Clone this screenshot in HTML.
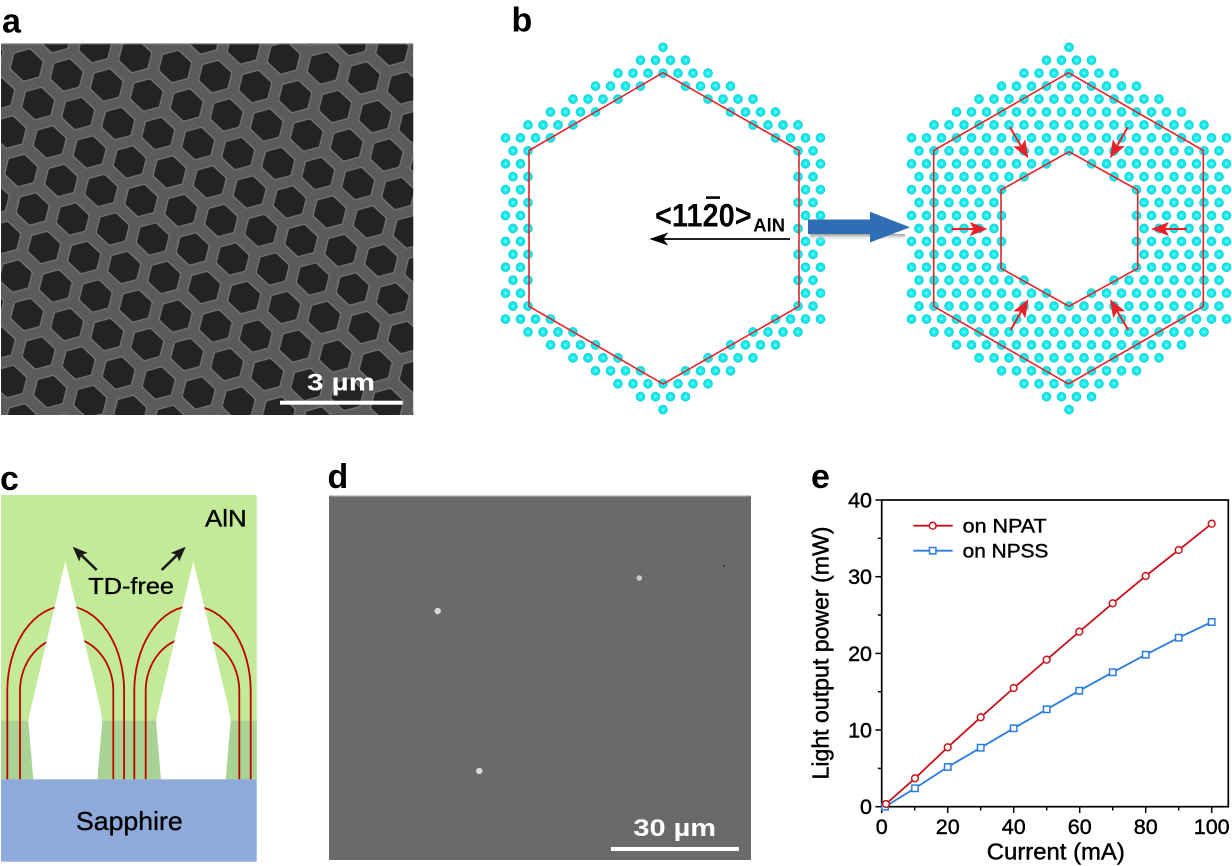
<!DOCTYPE html>
<html><head><meta charset="utf-8"><style>html,body{margin:0;padding:0;background:#fff}svg{display:block}</style></head>
<body>
<svg xmlns="http://www.w3.org/2000/svg" width="1232" height="866" viewBox="0 0 1232 866" font-family="Liberation Sans, Arial, sans-serif">
<defs>
<radialGradient id="dg" cx="0.5" cy="0.5" r="0.5">
<stop offset="0" stop-color="#e8ffff"/><stop offset="0.14" stop-color="#6ff9f9"/><stop offset="0.3" stop-color="#22f2f4"/><stop offset="0.85" stop-color="#12e0e4"/><stop offset="1" stop-color="#12aab4"/>
</radialGradient>
<pattern id="pl" patternUnits="userSpaceOnUse" x="655.5" y="40.83" width="15" height="25.88">
<circle cx="7.5" cy="6.47" r="4.8" fill="url(#dg)"/><circle cx="0" cy="19.41" r="4.8" fill="url(#dg)"/><circle cx="15" cy="19.41" r="4.8" fill="url(#dg)"/>
</pattern>
<pattern id="pr" patternUnits="userSpaceOnUse" x="1061.5" y="40.83" width="15" height="25.88">
<circle cx="7.5" cy="6.47" r="4.8" fill="url(#dg)"/><circle cx="0" cy="19.41" r="4.8" fill="url(#dg)"/><circle cx="15" cy="19.41" r="4.8" fill="url(#dg)"/>
</pattern>
<pattern id="hx" patternUnits="userSpaceOnUse" width="100" height="100" patternTransform="matrix(0.4 0.1 0.115 0.385 0.95 40.75)">
<polygon points="72.67,72.67 95.33,27.33 72.67,4.67 27.33,27.33 4.67,72.67 27.33,95.33" fill="#777" stroke="#777" stroke-width="8" stroke-linejoin="round"/>
<polygon points="70.67,70.67 91.33,29.33 70.67,8.67 29.33,29.33 8.67,70.67 29.33,91.33" fill="#232323" stroke="#232323" stroke-width="8" stroke-linejoin="round"/>
</pattern>
<clipPath id="ca"><rect x="1" y="43.3" width="412.3" height="371.7"/></clipPath>
<linearGradient id="sh" x1="0" y1="0" x2="0" y2="1"><stop offset="0" stop-color="#9a9a9a"/><stop offset="1" stop-color="#ffffff" stop-opacity="0"/></linearGradient>
</defs>

<!-- Panel labels -->
<g font-weight="bold" font-size="34" fill="#000">
<text x="2" y="32.3">a</text>
<text x="511.5" y="31.7">b</text>
<text x="0" y="490">c</text>
<text x="327.5" y="488">d</text>
<text x="811" y="488">e</text>
</g>

<!-- Panel a -->
<g clip-path="url(#ca)">
<rect x="1" y="43.3" width="412.3" height="371.7" fill="#5b5b5b"/>
<rect x="1" y="43.3" width="412.3" height="371.7" fill="url(#hx)"/>
</g>
<rect x="1" y="43.3" width="412.3" height="1" fill="#9a9a9a"/>
<rect x="280" y="400.7" width="122.7" height="4" fill="#fff"/>
<text x="341" y="390.7" text-anchor="middle" font-weight="bold" font-size="24" fill="#fff" textLength="68" lengthAdjust="spacingAndGlyphs">3 µm</text>

<!-- Panel b: dots left -->
<g fill="url(#pl)">
<rect x="656" y="41.3" width="14" height="12"/>
<rect x="633.5" y="54.24" width="59" height="12"/>
<rect x="611" y="67.18" width="104" height="12"/>
<rect x="588.5" y="80.12" width="59" height="12"/><rect x="678.5" y="80.12" width="59" height="12"/>
<rect x="566" y="93.06" width="59" height="12"/><rect x="701" y="93.06" width="59" height="12"/>
<rect x="543.5" y="106" width="59" height="12"/><rect x="723.5" y="106" width="59" height="12"/>
<rect x="521" y="118.94" width="59" height="12"/><rect x="746" y="118.94" width="59" height="12"/>
<rect x="498.5" y="131.88" width="59" height="12"/><rect x="768.5" y="131.88" width="59" height="12"/>
<rect x="506" y="144.82" width="29" height="12"/><rect x="791" y="144.82" width="29" height="12"/>
<rect x="498.5" y="157.76" width="29" height="12"/><rect x="798.5" y="157.76" width="29" height="12"/>
<rect x="506" y="170.7" width="29" height="12"/><rect x="791" y="170.7" width="29" height="12"/>
<rect x="498.5" y="183.64" width="29" height="12"/><rect x="798.5" y="183.64" width="29" height="12"/>
<rect x="506" y="196.58" width="29" height="12"/><rect x="791" y="196.58" width="29" height="12"/>
<rect x="498.5" y="209.52" width="29" height="12"/><rect x="798.5" y="209.52" width="29" height="12"/>
<rect x="506" y="222.46" width="29" height="12"/><rect x="791" y="222.46" width="29" height="12"/>
<rect x="498.5" y="235.4" width="29" height="12"/><rect x="798.5" y="235.4" width="29" height="12"/>
<rect x="506" y="248.34" width="29" height="12"/><rect x="791" y="248.34" width="29" height="12"/>
<rect x="498.5" y="261.28" width="29" height="12"/><rect x="798.5" y="261.28" width="29" height="12"/>
<rect x="506" y="274.22" width="29" height="12"/><rect x="791" y="274.22" width="29" height="12"/>
<rect x="498.5" y="287.16" width="29" height="12"/><rect x="798.5" y="287.16" width="29" height="12"/>
<rect x="506" y="300.1" width="29" height="12"/><rect x="791" y="300.1" width="29" height="12"/>
<rect x="498.5" y="313.04" width="59" height="12"/><rect x="768.5" y="313.04" width="59" height="12"/>
<rect x="521" y="325.98" width="59" height="12"/><rect x="746" y="325.98" width="59" height="12"/>
<rect x="543.5" y="338.92" width="59" height="12"/><rect x="723.5" y="338.92" width="59" height="12"/>
<rect x="566" y="351.86" width="59" height="12"/><rect x="701" y="351.86" width="59" height="12"/>
<rect x="588.5" y="364.8" width="59" height="12"/><rect x="678.5" y="364.8" width="59" height="12"/>
<rect x="611" y="377.74" width="104" height="12"/>
<rect x="633.5" y="390.68" width="59" height="12"/>
<rect x="656" y="403.62" width="14" height="12"/>
</g>

<!-- Panel b: dots right -->
<g fill="url(#pr)">
<rect x="1062" y="41.3" width="14" height="12"/>
<rect x="1039.5" y="54.24" width="59" height="12"/>
<rect x="1017" y="67.18" width="104" height="12"/>
<rect x="994.5" y="80.12" width="149" height="12"/>
<rect x="972" y="93.06" width="194" height="12"/>
<rect x="949.5" y="106" width="239" height="12"/>
<rect x="927" y="118.94" width="284" height="12"/>
<rect x="904.5" y="131.88" width="329" height="12"/>
<rect x="912" y="144.82" width="314" height="12"/>
<rect x="904.5" y="157.76" width="149" height="12"/><rect x="1084.5" y="157.76" width="149" height="12"/>
<rect x="912" y="170.7" width="119" height="12"/><rect x="1107" y="170.7" width="119" height="12"/>
<rect x="904.5" y="183.64" width="104" height="12"/><rect x="1129.5" y="183.64" width="104" height="12"/>
<rect x="912" y="196.58" width="89" height="12"/><rect x="1137" y="196.58" width="89" height="12"/>
<rect x="904.5" y="209.52" width="104" height="12"/><rect x="1129.5" y="209.52" width="104" height="12"/>
<rect x="912" y="222.46" width="89" height="12"/><rect x="1137" y="222.46" width="89" height="12"/>
<rect x="904.5" y="235.4" width="104" height="12"/><rect x="1129.5" y="235.4" width="104" height="12"/>
<rect x="912" y="248.34" width="89" height="12"/><rect x="1137" y="248.34" width="89" height="12"/>
<rect x="904.5" y="261.28" width="104" height="12"/><rect x="1129.5" y="261.28" width="104" height="12"/>
<rect x="912" y="274.22" width="119" height="12"/><rect x="1107" y="274.22" width="119" height="12"/>
<rect x="904.5" y="287.16" width="149" height="12"/><rect x="1084.5" y="287.16" width="149" height="12"/>
<rect x="912" y="300.1" width="314" height="12"/>
<rect x="904.5" y="313.04" width="329" height="12"/>
<rect x="927" y="325.98" width="284" height="12"/>
<rect x="949.5" y="338.92" width="239" height="12"/>
<rect x="972" y="351.86" width="194" height="12"/>
<rect x="994.5" y="364.8" width="149" height="12"/>
<rect x="1017" y="377.74" width="104" height="12"/>
<rect x="1039.5" y="390.68" width="59" height="12"/>
<rect x="1062" y="403.62" width="14" height="12"/>
</g>

<!-- red hexagons -->
<g fill="none" stroke="#e3232a" stroke-width="1.6" stroke-linejoin="miter">
<polygon points="663,72.7 799,150.5 799,306.3 663,384 529,306.3 529,150.5"/>
<polygon points="1068.5,72.7 1203.3,150.5 1203.3,306.3 1068.5,384 933.7,306.3 933.7,150.5"/>
<polygon points="1069,151.7 1137.7,190 1137.7,268.3 1069,306.3 1001,268.3 1001,190"/>
</g>

<!-- red arrows -->
<g stroke="#e8202a" stroke-width="2" fill="none">
<line x1="951.7" y1="229" x2="975" y2="229"/>
<line x1="1186.7" y1="229" x2="1163" y2="229"/>
<line x1="1010" y1="127.3" x2="1021.2" y2="146.3"/>
<line x1="1127.7" y1="127.3" x2="1116.9" y2="146.2"/>
<line x1="1010.7" y1="330" x2="1021.3" y2="311.4"/>
<line x1="1128.3" y1="330" x2="1117.2" y2="311.3"/>
</g>
<g fill="#e8202a">
<polygon points="987.7,229 969.7,236 973.7,229 969.7,222"/>
<polygon points="1151,229 1169,236 1165,229 1169,222"/>
<polygon points="1028.3,158.3 1013.1,146.4 1021.2,146.25 1025.2,139.2"/>
<polygon points="1110,158.3 1112.85,139.2 1116.94,146.15 1125,146.15"/>
<polygon points="1028.3,299.3 1025.4,318.4 1021.34,311.44 1013.3,311.4"/>
<polygon points="1110,299.3 1125.2,311.2 1117.17,311.33 1113.2,318.3"/>
</g>

<!-- black direction arrow and label -->
<line x1="663" y1="239" x2="790" y2="239" stroke="#000" stroke-width="1.7"/>
<polygon points="649.3,239 668.3,232.5 663.3,239 668.3,245.5" fill="#000"/>
<g transform="translate(655 226.7) scale(1 1.12)">
<text x="0" y="0" font-weight="bold" font-size="29" fill="#000" textLength="96.7" lengthAdjust="spacingAndGlyphs">&lt;1120&gt;</text>
</g>
<rect x="706" y="196.3" width="14" height="2.6" fill="#000"/>
<text x="753.3" y="231.7" font-weight="bold" font-size="18.5" fill="#000" textLength="31.7" lengthAdjust="spacingAndGlyphs">AlN</text>

<!-- blue arrow -->
<rect x="810" y="234" width="95" height="7" fill="url(#sh)"/>
<rect x="808" y="219.5" width="64" height="14.5" fill="#2f6db5"/>
<polygon points="870,211.7 910,227.2 870,242.5" fill="#2f6db5"/>

<!-- Panel c -->
<rect x="1" y="495" width="255.7" height="284.3" fill="#c2ea98"/>
<rect x="1" y="720.7" width="255.7" height="58.6" fill="#a9d394"/>
<rect x="1" y="779.3" width="255.7" height="82.4" fill="#8eaadb"/>
<g fill="none" stroke="#c00000" stroke-width="1.8">
<path d="M7.3,779.3 L7.3,691 A58.4,85 0 0 1 124.1,691 L124.1,779.3"/>
<path d="M20,779.3 L20,691 A46.65,54 0 0 1 113.3,691 L113.3,779.3"/>
<path d="M134.3,779.3 L134.3,691 A58.2,85 0 0 1 250.7,691 L250.7,779.3"/>
<path d="M145.7,779.3 L145.7,691 A46.8,54 0 0 1 239.3,691 L239.3,779.3"/>
</g>
<polygon points="65.3,561 100,706.7 102.3,720.7 97.3,779.3 33.3,779.3 28.3,720.7 31.3,706.7" fill="#fff"/>
<polygon points="193.3,561 228.3,706.7 230.7,720.7 225.7,779.3 161,779.3 156,720.7 159,706.7" fill="#fff"/>
<g stroke="#1a1a1a" stroke-width="2.6">
<line x1="96.7" y1="570" x2="81.3" y2="555.1"/>
<line x1="161.7" y1="570" x2="177.1" y2="555.1"/>
</g>
<g fill="#1a1a1a">
<polygon points="72.7,546.7 87.64,552.84 81.31,555.06 79.28,561.46"/>
<polygon points="185.7,546.7 179.12,561.46 177.09,555.06 170.76,552.84"/>
</g>
<g fill="#000" stroke="#000" stroke-width="0.35">
<text x="205" y="526.7" font-size="24" textLength="41.7" lengthAdjust="spacingAndGlyphs">AlN</text>
<text x="88.3" y="594" font-size="23" textLength="85.7" lengthAdjust="spacingAndGlyphs">TD-free</text>
<text x="76" y="830" font-size="26" textLength="106.7" lengthAdjust="spacingAndGlyphs">Sapphire</text>
</g>

<!-- Panel d -->
<rect x="329" y="495.7" width="422" height="364.3" fill="#6a6a6a"/>
<rect x="329" y="495.7" width="422" height="1" fill="#a0a0a0"/>
<circle cx="437.7" cy="611" r="3.2" fill="#d8d8d8"/>
<circle cx="639.3" cy="578" r="2.8" fill="#c8c8c8"/>
<circle cx="479.3" cy="771" r="3.2" fill="#d8d8d8"/>
<circle cx="724" cy="566" r="1" fill="#333"/>
<rect x="611" y="847" width="128" height="4" fill="#fff"/>
<text x="674.7" y="836" text-anchor="middle" font-weight="bold" font-size="24" fill="#fff" textLength="82.7" lengthAdjust="spacingAndGlyphs">30 µm</text>

<!-- Panel e chart -->
<g stroke="#000" stroke-width="1.7" fill="none">
<rect x="881.7" y="500" width="346.6" height="306.7"/>
</g>
<g stroke="#000" stroke-width="1.5">
<line x1="881.7" y1="806.7" x2="881.7" y2="813"/>
<line x1="947.7" y1="806.7" x2="947.7" y2="813"/>
<line x1="1013.7" y1="806.7" x2="1013.7" y2="813"/>
<line x1="1079.7" y1="806.7" x2="1079.7" y2="813"/>
<line x1="1145.7" y1="806.7" x2="1145.7" y2="813"/>
<line x1="1211.7" y1="806.7" x2="1211.7" y2="813"/>
<line x1="914.7" y1="806.7" x2="914.7" y2="810.5"/>
<line x1="980.7" y1="806.7" x2="980.7" y2="810.5"/>
<line x1="1046.7" y1="806.7" x2="1046.7" y2="810.5"/>
<line x1="1112.7" y1="806.7" x2="1112.7" y2="810.5"/>
<line x1="1178.7" y1="806.7" x2="1178.7" y2="810.5"/>
<line x1="881.7" y1="806.7" x2="875.4" y2="806.7"/>
<line x1="881.7" y1="730" x2="875.4" y2="730"/>
<line x1="881.7" y1="653.4" x2="875.4" y2="653.4"/>
<line x1="881.7" y1="576.7" x2="875.4" y2="576.7"/>
<line x1="881.7" y1="500" x2="875.4" y2="500"/>
<line x1="881.7" y1="768.4" x2="877.9" y2="768.4"/>
<line x1="881.7" y1="691.7" x2="877.9" y2="691.7"/>
<line x1="881.7" y1="615" x2="877.9" y2="615"/>
<line x1="881.7" y1="538.3" x2="877.9" y2="538.3"/>
</g>
<g font-size="21.5" fill="#000" stroke="#000" stroke-width="0.45" text-anchor="middle">
<text x="881.7" y="834">0</text>
<text x="947.7" y="834">20</text>
<text x="1013.7" y="834">40</text>
<text x="1079.7" y="834">60</text>
<text x="1145.7" y="834">80</text>
<text x="1211.7" y="834">100</text>
</g>
<g font-size="21.5" fill="#000" stroke="#000" stroke-width="0.45" text-anchor="end">
<text x="872" y="814.2">0</text>
<text x="872" y="737.5">10</text>
<text x="872" y="660.9">20</text>
<text x="872" y="584.2">30</text>
<text x="872" y="507.5">40</text>
</g>
<g fill="#000" stroke="#000" stroke-width="0.45">
<text x="1055.8" y="859.5" font-size="23" text-anchor="middle" textLength="138" lengthAdjust="spacingAndGlyphs">Current (mA)</text>
<text transform="translate(828.5 653) rotate(-90)" x="0" y="0" font-size="23" text-anchor="middle" textLength="253" lengthAdjust="spacingAndGlyphs">Light output power (mW)</text>
</g>

<!-- series -->
<polyline fill="none" stroke="#2a7de1" stroke-width="1.8" points="885,806.7 915,788.3 947.7,767 980.7,747.7 1013.7,728.3 1046.7,709.3 1079.3,690.7 1112.7,672.3 1145.7,654.7 1178.7,637.7 1211.7,622"/>
<polyline fill="none" stroke="#c8141e" stroke-width="1.8" points="886,804 915,778.3 947.7,747.3 980.7,717.3 1013.7,688 1046.7,659.7 1079.3,631.7 1112.7,603.3 1145.7,576 1178.7,550 1211.7,523.7"/>
<g fill="#fff" stroke="#2a7de1" stroke-width="1.5">
<rect x="881.8" y="803.5" width="6.4" height="6.4"/>
<rect x="911.8" y="785.1" width="6.4" height="6.4"/>
<rect x="944.5" y="763.8" width="6.4" height="6.4"/>
<rect x="977.5" y="744.5" width="6.4" height="6.4"/>
<rect x="1010.5" y="725.1" width="6.4" height="6.4"/>
<rect x="1043.5" y="706.1" width="6.4" height="6.4"/>
<rect x="1076.1" y="687.5" width="6.4" height="6.4"/>
<rect x="1109.5" y="669.1" width="6.4" height="6.4"/>
<rect x="1142.5" y="651.5" width="6.4" height="6.4"/>
<rect x="1175.5" y="634.5" width="6.4" height="6.4"/>
<rect x="1208.5" y="618.8" width="6.4" height="6.4"/>
</g>
<g fill="#fff" stroke="#c8141e" stroke-width="1.5">
<circle cx="886" cy="804" r="3.4"/>
<circle cx="915" cy="778.3" r="3.4"/>
<circle cx="947.7" cy="747.3" r="3.4"/>
<circle cx="980.7" cy="717.3" r="3.4"/>
<circle cx="1013.7" cy="688" r="3.4"/>
<circle cx="1046.7" cy="659.7" r="3.4"/>
<circle cx="1079.3" cy="631.7" r="3.4"/>
<circle cx="1112.7" cy="603.3" r="3.4"/>
<circle cx="1145.7" cy="576" r="3.4"/>
<circle cx="1178.7" cy="550" r="3.4"/>
<circle cx="1211.7" cy="523.7" r="3.4"/>
</g>
<!-- legend -->
<line x1="913.3" y1="525.7" x2="952.7" y2="525.7" stroke="#c8141e" stroke-width="1.8"/>
<circle cx="932.7" cy="525.7" r="3.4" fill="#fff" stroke="#c8141e" stroke-width="1.5"/>
<line x1="913.3" y1="550.7" x2="952.7" y2="550.7" stroke="#2a7de1" stroke-width="1.8"/>
<rect x="929.5" y="547.5" width="6.4" height="6.4" fill="#fff" stroke="#2a7de1" stroke-width="1.5"/>
<g fill="#000" stroke="#000" stroke-width="0.4">
<text x="962.7" y="532.7" font-size="19.5" textLength="84" lengthAdjust="spacingAndGlyphs">on NPAT</text>
<text x="962.7" y="557.7" font-size="19.5" textLength="85.7" lengthAdjust="spacingAndGlyphs">on NPSS</text>
</g>
</svg>
</body></html>
